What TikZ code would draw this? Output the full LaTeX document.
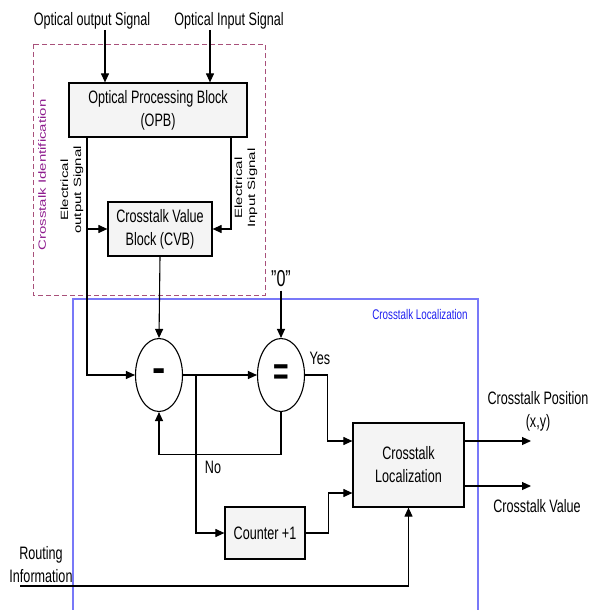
\documentclass[tikz,border=0pt]{standalone}
\usepackage{fontspec}
\setmainfont{Liberation Sans}[FakeStretch=0.7]
\newfontfamily\rotfont{Liberation Sans}
\usepackage{tikz}
\usetikzlibrary{arrows.meta,positioning,calc,shapes.geometric}
\definecolor{idcol}{HTML}{A8507A}
\definecolor{idtxt}{HTML}{8E1C8E}
\definecolor{loccol}{HTML}{7878F8}
\definecolor{loctxt}{HTML}{2020F0}
\definecolor{boxbg}{HTML}{F4F4F4}

\begin{document}
\begin{tikzpicture}[x=1pt,y=-1pt,
  font=\fontsize{18}{23}\selectfont,
  blk/.style={draw,fill=boxbg,line width=1.2pt,inner sep=0pt,align=center},
  opnode/.style={draw,ellipse,line width=1.1pt,minimum width=47pt,
                 minimum height=73pt,inner sep=0pt},
  ar/.style={line width=1.1pt,-{Triangle[length=9pt,width=8pt]}},
  rotlbl/.style={rotate=90,yscale=0.7,align=center,
                 font=\rotfont\fontsize{15}{18.5}\selectfont},
]
\useasboundingbox (0,0) rectangle (589,610);

% the two frames
\draw[idcol,line width=0.9pt,dash pattern=on 5pt off 3pt] (33,44) rectangle (265,295);
\draw[loccol,line width=1.1pt] (73,620) -- (73,299) -- (478,299) -- (478,620);
\node[rotlbl,text=idtxt] (idlbl) at (42,175) {Crosstalk Identification};
\node[font=\fontsize{14}{16}\selectfont,text=loctxt] (loclbl) at (420,314)
  {Crosstalk Localization};

% identification part
\node (outsig) at (92,21) {Optical output Signal};
\node (insig) at (229,21) {Optical Input Signal};
\node[blk,minimum width=178pt,minimum height=54pt] (opb) at (158,110)
  {Optical Processing Block\\(OPB)};
\node[blk,minimum width=104pt,minimum height=54pt] (cvb) at (160,229)
  {Crosstalk Value\\Block (CVB)};
\node[rotlbl] (eolbl) at (72,190) {Electrical\\output Signal};
\node[rotlbl] (eilbl) at (246,188) {Electrical\\Input Signal};

\coordinate (oo) at (105,30);
\coordinate (oi) at (210,30);
\coordinate (eo) at (87,0);
\coordinate (ei) at (231,0);
\draw[ar] (oo) -- (oo |- opb.north);
\draw[ar] (oi) -- (oi |- opb.north);

% localization part
\node[opnode,font=\rotfont\fontsize{40}{40}\selectfont\bfseries] (minus) at (159,375) {-};
\node[opnode,font=\fontsize{38}{38}\selectfont\bfseries] (eq) at (281,375) {=};
\node[font=\fontsize{23}{25}\selectfont] (zero) at (281,279) {"0"};
\node (yes) at (320,358) {Yes};
\node (no) at (213,467) {No};
\node[blk,minimum width=111pt,minimum height=84pt] (cl) at (408.5,465)
  {Crosstalk\\Localization};
\node[blk,minimum width=80pt,minimum height=52pt] (cnt) at (265,533) {Counter +1};
\node[align=center] (rtlbl) at (41,565) {Routing\\Information};
\node[align=center] (poslbl) at (538,411) {Crosstalk Position\\(x,y)};
\node (vallbl) at (537,506) {Crosstalk Value};

\coordinate (br) at (196,375);
\coordinate (rt) at (20,586);
\coordinate (posout) at (531,441);
\coordinate (valout) at (531,486);

\draw[ar] (eo |- opb.south) |- (minus.west);
\draw[ar] (eo |- cvb.west) -- (cvb.west);
\draw[ar] (ei |- opb.south) |- (cvb.east);
\draw[ar] (cvb.south) -- (minus.north);
\draw[ar] (zero.south) -- (eq.north);
\draw[ar] (minus.east) -- (eq.west);
\draw[ar] (br) |- (cnt.west);
\draw[ar] (eq.south) -- ++(0,42) -| (minus.south);
\draw[ar] (eq.east) -- ++(22,0) |- (cl.west |- posout);
\draw[ar] (cnt.east) -- ++(23,0) |- ($(cl.west)+(0,28)$);
\draw[ar] (rt) -| (cl.south);
\draw[ar] (cl.east |- posout) -- (posout);
\draw[ar] (cl.east |- valout) -- (valout);
\end{tikzpicture}
\end{document}
